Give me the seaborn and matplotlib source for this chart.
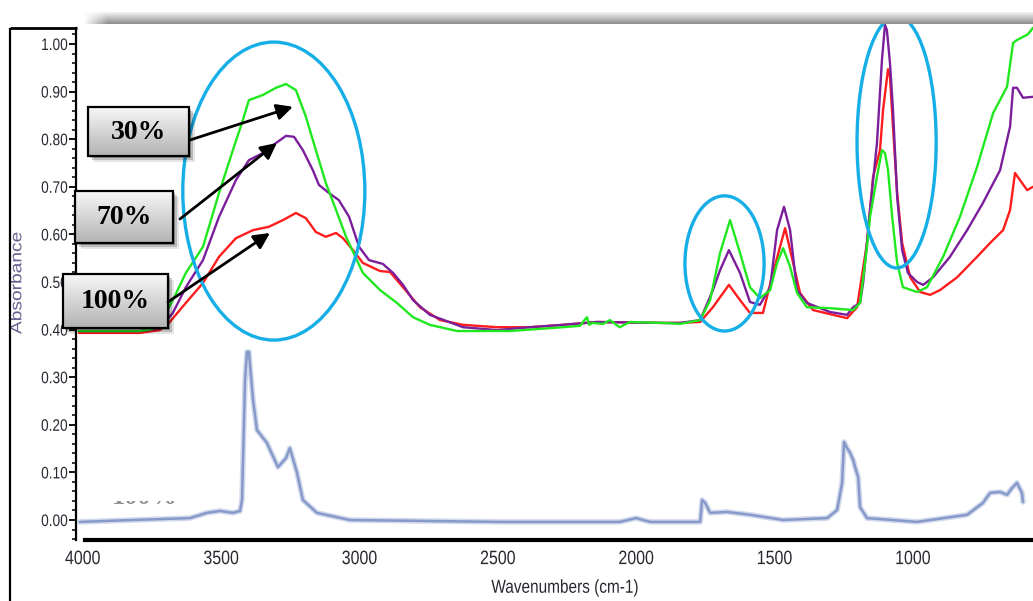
import numpy as np
import pandas as pd
import matplotlib
matplotlib.use("Agg")
import matplotlib.pyplot as plt
import seaborn as sns
from matplotlib.patches import Ellipse, Rectangle
from matplotlib.ticker import FixedLocator, FixedFormatter
from matplotlib.patheffects import AbstractPathEffect
from matplotlib.transforms import Affine2D

# ---------------------------------------------------------------- data
# FTIR spectra: wavenumber (cm-1) and absorbance for each sample
wn_30 = [4014, 3899, 3794, 3751, 3711, 3675, 3628, 3566, 3508, 3458, 3422, 3400,
         3349, 3302, 3266, 3230, 3194, 3158, 3122, 3085, 3049, 3013, 2988, 2926,
         2865, 2807, 2746, 2648, 2456, 2265, 2203, 2190, 2178, 2170, 2160, 2120,
         2095, 2060, 2023, 1903, 1842, 1769, 1733, 1697, 1661, 1625, 1589, 1553,
         1516, 1491, 1469, 1444, 1419, 1383, 1300, 1216, 1191, 1166, 1155, 1130,
         1112, 1101, 1090, 1075, 1057, 1036, 985, 949, 891, 830, 768, 710, 660,
         638, 625, 602, 585, 566]
abs_30 = [0.397, 0.397, 0.397, 0.401, 0.424, 0.462, 0.519, 0.574, 0.687, 0.777,
          0.840, 0.882, 0.893, 0.908, 0.916, 0.903, 0.847, 0.777, 0.708, 0.651,
          0.595, 0.550, 0.519, 0.483, 0.456, 0.426, 0.410, 0.397, 0.397, 0.405,
          0.408, 0.418, 0.426, 0.410, 0.414, 0.412, 0.420, 0.405, 0.416, 0.414,
          0.412, 0.420, 0.462, 0.561, 0.630, 0.561, 0.489, 0.466, 0.483, 0.540,
          0.571, 0.532, 0.477, 0.447, 0.445, 0.441, 0.456, 0.574, 0.637, 0.721,
          0.777, 0.771, 0.735, 0.637, 0.540, 0.489, 0.479, 0.489, 0.553, 0.637,
          0.742, 0.855, 0.910, 1.002, 1.008, 1.015, 1.020, 1.034]

wn_70 = [4014, 3794, 3722, 3675, 3628, 3566, 3508, 3447, 3400, 3349, 3302, 3266,
         3237, 3205, 3169, 3147, 3111, 3075, 3038, 3002, 2966, 2916, 2879, 2843,
         2807, 2746, 2626, 2503, 2384, 2265, 2142, 1903, 1842, 1769, 1723, 1697,
         1665, 1625, 1589, 1553, 1516, 1491, 1466, 1444, 1419, 1383, 1300, 1238,
         1216, 1191, 1180, 1155, 1130, 1112, 1101, 1094, 1083, 1072, 1057, 1039,
         1018, 985, 963, 927, 866, 804, 747, 685, 649, 638, 624, 602, 566]
abs_70 = [0.397, 0.397, 0.403, 0.435, 0.489, 0.546, 0.637, 0.714, 0.756, 0.771,
          0.792, 0.807, 0.805, 0.777, 0.735, 0.704, 0.687, 0.672, 0.637, 0.574,
          0.546, 0.538, 0.519, 0.494, 0.462, 0.431, 0.405, 0.399, 0.405, 0.410,
          0.416, 0.414, 0.414, 0.420, 0.483, 0.525, 0.567, 0.519, 0.458, 0.452,
          0.489, 0.609, 0.658, 0.609, 0.483, 0.456, 0.437, 0.431, 0.447, 0.456,
          0.498, 0.651, 0.792, 0.966, 1.040, 1.029, 0.960, 0.861, 0.679, 0.567,
          0.519, 0.500, 0.494, 0.510, 0.553, 0.609, 0.666, 0.735, 0.826, 0.908,
          0.908, 0.887, 0.889]

wn_100 = [4014, 3794, 3722, 3689, 3628, 3566, 3508, 3447, 3385, 3328, 3277, 3230,
          3194, 3158, 3122, 3085, 3060, 3024, 2988, 2926, 2890, 2843, 2782, 2709,
          2626, 2503, 2384, 2265, 2142, 1903, 1842, 1769, 1723, 1665, 1625, 1589,
          1542, 1506, 1462, 1433, 1408, 1361, 1238, 1202, 1166, 1144, 1119, 1108,
          1090, 1083, 1072, 1057, 1039, 1010, 974, 938, 902, 840, 768, 721, 674,
          649, 631, 613, 587, 566]
abs_100 = [0.393, 0.393, 0.399, 0.414, 0.456, 0.498, 0.553, 0.592, 0.609, 0.616,
           0.630, 0.645, 0.634, 0.605, 0.595, 0.603, 0.592, 0.567, 0.540, 0.523,
           0.521, 0.489, 0.447, 0.420, 0.410, 0.405, 0.405, 0.410, 0.416, 0.414,
           0.414, 0.416, 0.447, 0.494, 0.462, 0.435, 0.435, 0.519, 0.613, 0.540,
           0.477, 0.441, 0.424, 0.447, 0.582, 0.721, 0.777, 0.861, 0.947, 0.931,
           0.826, 0.687, 0.582, 0.510, 0.479, 0.473, 0.483, 0.510, 0.553, 0.582,
           0.609, 0.651, 0.729, 0.714, 0.693, 0.700]

wn_ref = [4011, 3819, 3613, 3552, 3505, 3458, 3432, 3425, 3414, 3407, 3400, 3385,
          3371, 3335, 3295, 3266, 3252, 3226, 3205, 3154, 3035, 2493, 2059, 2001,
          1950, 1769, 1762, 1751, 1733, 1672, 1589, 1469, 1310, 1274, 1256, 1249,
          1238, 1227, 1216, 1209, 1198, 1191, 1166, 985, 804, 747, 721, 685, 660,
          642, 624, 606, 602]
abs_ref = [-0.004, 0.000, 0.004, 0.015, 0.019, 0.015, 0.019, 0.042, 0.294, 0.353,
           0.353, 0.252, 0.189, 0.162, 0.111, 0.130, 0.151, 0.099, 0.042, 0.015,
           0.000, -0.004, -0.004, 0.004, -0.004, -0.004, 0.042, 0.036, 0.015,
           0.017, 0.011, 0.000, 0.004, 0.021, 0.078, 0.164, 0.151, 0.141, 0.126,
           0.111, 0.090, 0.027, 0.004, -0.004, 0.011, 0.036, 0.057, 0.059, 0.053,
           0.067, 0.078, 0.057, 0.038]

labels = ["30%", "70%", "100%"]
x_ticks = [4000, 3500, 3000, 2500, 2000, 1500, 1000]
y_ticks = [0.0, 0.1, 0.2, 0.3, 0.4, 0.5, 0.6, 0.7, 0.8, 0.9, 1.0]


class Stretch(AbstractPathEffect):
    """Scale glyph outlines horizontally (condensed / expanded lettering)."""

    def __init__(self, sx=0.82, anchor="center"):
        super().__init__()
        self.sx = sx
        self.anchor = anchor

    def draw_path(self, renderer, gc, tpath, affine, rgbFace=None):
        ext = tpath.get_extents()
        if self.anchor == "right":
            cx = ext.x1
        elif self.anchor == "left":
            cx = ext.x0
        else:
            cx = 0.5 * (ext.x0 + ext.x1)
        pre = Affine2D().translate(-cx, 0).scale(self.sx, 1).translate(cx, 0)
        renderer.draw_path(gc, tpath, pre + affine, rgbFace)


# ---------------------------------------------------------------- style
sns.set_style("white")
plt.rcParams["font.family"] = ["Liberation Sans", "DejaVu Sans"]

W, H = 1033, 601
fig = plt.figure(figsize=(W / 100, H / 100), dpi=100)
ax = fig.add_axes([76 / W, 61 / H, 957 / W, 530 / H])

C_GREEN, C_PURPLE, C_RED = "#1fe81f", "#7b1e9c", "#ff1c1c"
C_REF = "#7e92c6"

# reference spectrum: soft wide stroke plus a thinner core
sns.lineplot(x=wn_ref, y=abs_ref, ax=ax, sort=False, estimator=None,
             color="#9aabd6", lw=4.0, alpha=0.45)
sns.lineplot(x=wn_ref, y=abs_ref, ax=ax, sort=False, estimator=None,
             color=C_REF, lw=1.8, alpha=0.9)

for wn, ab, col in [(wn_100, abs_100, C_RED), (wn_70, abs_70, C_PURPLE),
                    (wn_30, abs_30, C_GREEN)]:
    sns.lineplot(x=wn, y=ab, ax=ax, sort=False, estimator=None,
                 color=col, lw=1.7)

ax.set_xlim(4025, 566)
ax.set_ylim(-0.042, 1.0714)

for s in ["top", "right"]:
    ax.spines[s].set_visible(False)
ax.spines["left"].set_bounds(-0.042, 1.034)
ax.spines["left"].set_linewidth(1.6)
ax.spines["left"].set_color("black")
ax.spines["bottom"].set_bounds(566, 3993)
ax.spines["bottom"].set_linewidth(3.0)
ax.spines["bottom"].set_color("black")

tick_col = "#2b2630"
ax.xaxis.set_major_locator(FixedLocator(x_ticks))
ax.xaxis.set_major_formatter(FixedFormatter([str(t) for t in x_ticks]))
ax.yaxis.set_major_locator(FixedLocator(y_ticks))
ax.yaxis.set_major_formatter(FixedFormatter([f"{t:.2f}" for t in y_ticks]))
ax.yaxis.set_minor_locator(FixedLocator(np.round(np.arange(-0.04, 1.021, 0.02), 2)))
ax.tick_params(axis="x", which="major", direction="out", length=5, width=1.5,
               pad=3, labelsize=14, labelcolor=tick_col, color="black")
ax.tick_params(axis="y", which="major", direction="out", length=5, width=1.3,
               pad=1, labelsize=12, labelcolor=tick_col, color="black", left=True)
ax.tick_params(axis="y", which="minor", direction="out", length=3, width=1.1,
               color="black", left=True)
for lab in ax.get_xticklabels():
    lab.set_path_effects([Stretch(0.82, "center")])
for lab in ax.get_yticklabels():
    lab.set_path_effects([Stretch(0.82, "right")])

xl = ax.set_xlabel("Wavenumbers (cm-1)", fontsize=13.5, color=tick_col)
xl.set_path_effects([Stretch(0.82, "center")])
ax.xaxis.set_label_coords(0.511, -0.075)
yl = ax.set_ylabel("Absorbance", fontsize=11.5, color="#6a6090")
yl.set_path_effects([Stretch(1.2, "center")])
ax.yaxis.set_label_coords(-0.054, 0.485)

# highlight ellipses around the bands of interest
ell_kw = dict(fill=False, ec="#16aee6", lw=2.4, zorder=6)
ax.add_patch(Ellipse((3310, 0.691), 658, 0.626, **ell_kw))
ax.add_patch(Ellipse((1681, 0.539), 286, 0.284, **ell_kw))
ax.add_patch(Ellipse((1059, 0.794), 286, 0.529, **ell_kw))

# ---------------------------------------------------------------- overlay
ov = fig.add_axes([0, 0, 1, 1])
ov.axis("off")

# outer frame corner
ov.plot([10, 10], [28, H], color="black", lw=1.6, solid_capstyle="butt")
ov.plot([10, 77], [28, 28], color="black", lw=2.0, solid_capstyle="butt")

# header shadow bar
bar = np.linspace(0.96, 0.55, 40)[:, None] * np.ones((1, 400))
fade = np.clip(np.linspace(0, 40, 400), 0, 1)[None, :]
bar_rgba = np.zeros((40, 400, 4))
bar_rgba[..., :3] = bar[..., None]
bar_rgba[..., 3] = fade
ov.imshow(bar_rgba, extent=(83, W, 24, 12), origin="upper", aspect="auto",
          interpolation="bilinear", zorder=1)

# faint leftover label near the baseline, lower half only
t = ov.text(145, 497, "100%", ha="center", va="center", fontsize=19,
            fontweight="bold", color="#767676", family="Liberation Serif",
            alpha=0.8)
clip = Rectangle((100, 501), 90, 16, transform=ov.transData)
t.set_clip_path(clip)
t.set_clip_on(True)

grad = np.linspace(0.97, 0.70, 64)[:, None] * np.ones((1, 2))
grad_rgb = np.repeat(grad[..., None], 3, axis=2)

boxes = [(88, 107, 189, 156), (75, 191, 173, 243), (63, 274, 168, 328)]
starts = [(190, 140), (180, 219), (168, 302)]
tips = [(3241, 0.868), (3299, 0.792), (3324, 0.603)]

for (x0, y0, x1, y1), lab, st, tip in zip(boxes, labels, starts, tips):
    for k, a in [(6, 0.10), (4, 0.18), (2, 0.25)]:
        ov.add_patch(Rectangle((x0 + k, y0 + k), x1 - x0, y1 - y0,
                               fc="black", ec="none", alpha=a, zorder=2))
    ov.imshow(grad_rgb, extent=(x0, x1, y1, y0), origin="upper",
              aspect="auto", interpolation="bilinear", zorder=3)
    ov.add_patch(Rectangle((x0, y0), x1 - x0, y1 - y0, fill=False,
                           ec="black", lw=1.6, zorder=4))
    ov.text((x0 + x1) / 2, (y0 + y1) / 2 + 1, lab, ha="center", va="center",
            fontsize=20, fontweight="bold", family="Liberation Serif",
            color="black", zorder=5)
    ov.annotate("", xy=tip, xycoords=ax.transData, xytext=st,
                textcoords="data",
                arrowprops=dict(arrowstyle="-|>", color="black", lw=2.0,
                                mutation_scale=24, shrinkA=0, shrinkB=0),
                zorder=7)

ov.set_xlim(0, W)
ov.set_ylim(H, 0)

fig.savefig("out.png", dpi=100)
